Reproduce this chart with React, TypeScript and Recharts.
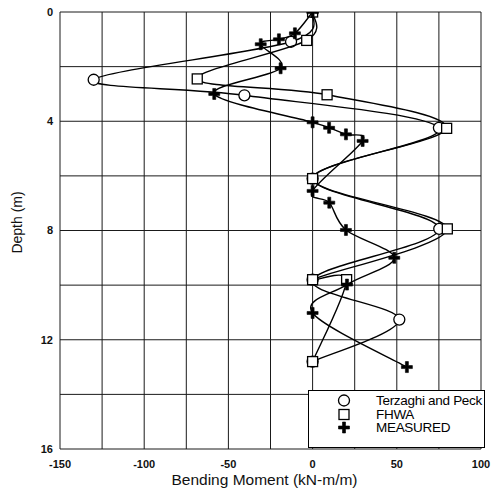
import React from "react";
import { ScatterChart, Scatter, XAxis, YAxis, CartesianGrid } from "recharts";

// values: x = bending moment (kN-m/m), y = depth (m)
const terzaghiMoment = [0, -12.8, -130, -40.5, 75, 0, 75.2, 0, 51.5, 0];
const terzaghiDepth = [0, 1.09, 2.48, 3.05, 4.24, 6.1, 7.94, 9.8, 11.26, 12.8];

const fhwaMoment = [0, -3.5, -68.5, 8.6, 79.6, 0, 80, 0, 20.2, 0];
const fhwaDepth = [0, 1.04, 2.45, 3.03, 4.26, 6.1, 7.94, 9.8, 9.8, 12.8];

const measuredMoment = [0, -10.5, -20, -30.8, -19, -58.4, 0, 9.8, 19.8, 29.7, 0, 9.9, 19.8, 48.5, 20.4, 0, 56];
const measuredDepth = [0, 0.78, 1.0, 1.18, 2.06, 3.0, 4.04, 4.24, 4.48, 4.72, 6.55, 6.98, 7.98, 9.0, 9.98, 11.02, 13.0];

const xTicks = [-150, -125, -100, -75, -50, -25, 0, 25, 50, 75, 100];
const yTicks = [0, 2, 4, 6, 8, 10, 12, 14, 16];

const toPoints = (xs: number[], ys: number[]) => xs.map((x, i) => ({ x, y: ys[i] }));

// smoothed line like the spreadsheet plot (uniform catmull-rom)
const smoothCurve = (context: any) => {
  let pts: number[][] = [];
  return {
    areaStart() {},
    areaEnd() {},
    lineStart() {
      pts = [];
    },
    lineEnd() {
      const n = pts.length;
      if (!n) return;
      context.moveTo(pts[0][0], pts[0][1]);
      for (let i = 0; i < n - 1; i++) {
        const p0 = pts[Math.max(0, i - 1)];
        const p1 = pts[i];
        const p2 = pts[i + 1];
        const p3 = pts[Math.min(n - 1, i + 2)];
        context.bezierCurveTo(
          p1[0] + (p2[0] - p0[0]) / 6,
          p1[1] + (p2[1] - p0[1]) / 6,
          p2[0] - (p3[0] - p1[0]) / 6,
          p2[1] - (p3[1] - p1[1]) / 6,
          p2[0],
          p2[1]
        );
      }
    },
    point(x: number, y: number) {
      pts.push([+x, +y]);
    },
  };
};

const FONT = "'Liberation Sans', Arial, sans-serif";

const CircleMark = (p: any) => <circle cx={p.cx} cy={p.cy} r={5.5} fill="#fff" stroke="#000" strokeWidth={1.3} />;
const SquareMark = (p: any) => (
  <rect x={p.cx - 5} y={p.cy - 5} width={10} height={10} fill="#fff" stroke="#000" strokeWidth={1.3} />
);
const CrossMark = (p: any) => (
  <path
    d={`M${p.cx - 1.5},${p.cy - 5.5}h3v4h4v3h-4v4h-3v-4h-4v-3h4z`}
    fill="#000"
    stroke="#000"
    strokeWidth={0.6}
  />
);

const legendRows = [
  { name: "Terzaghi and Peck", Mark: CircleMark },
  { name: "FHWA", Mark: SquareMark },
  { name: "MEASURED", Mark: CrossMark },
];

const LegendBox = () => (
  <div
    style={{
      position: "absolute",
      left: 308,
      top: 390,
      width: 177,
      height: 58,
      boxSizing: "border-box",
      border: "1.5px solid #000",
      background: "#fff",
      fontFamily: FONT,
      fontSize: 13.5,
      letterSpacing: -0.3,
      color: "#000",
      paddingTop: 3,
      whiteSpace: "nowrap",
    }}
  >
    {legendRows.map(({ name, Mark }) => (
      <div key={name} style={{ display: "flex", alignItems: "center", height: 13.5, lineHeight: "13.5px" }}>
        <svg width={14} height={13} style={{ marginLeft: 28, marginRight: 25, flex: "none" }}>
          <Mark cx={7} cy={6.5} />
        </svg>
        <span>{name}</span>
      </div>
    ))}
  </div>
);

// x title placed from the axis viewBox
const XTitle = (props: any) => {
  const vb = props.viewBox || {};
  return (
    <text
      x={vb.x + vb.width / 2 - 6}
      y={vb.y + 36}
      textAnchor="middle"
      fontSize={15.5}
      fill="#111"
      fontFamily={FONT}
    >
      Bending Moment (kN-m/m)
    </text>
  );
};

export default function App() {
  return (
    <div style={{ position: "fixed", left: 0, top: 0, width: 492, height: 491, background: "#fff" }}>
      <style>{"html,body{margin:0;padding:0;overflow:hidden;}"}</style>
      <ScatterChart width={492} height={491} margin={{ top: 12, right: 11, left: 0, bottom: 0 }}>
        <CartesianGrid stroke="#1a1a1a" strokeWidth={1} />
        <XAxis
          type="number"
          dataKey="x"
          domain={[-150, 100]}
          ticks={xTicks}
          allowDataOverflow
          height={42}
          tickSize={0}
          tickMargin={11}
          axisLine={false}
          tickFormatter={(v) => (v % 50 === 0 ? String(v) : "")}
          tick={{ fontSize: 11, fontWeight: 700, fill: "#111", fontFamily: FONT }}
          label={<XTitle />}
        />
        <YAxis
          type="number"
          dataKey="y"
          domain={[0, 16]}
          reversed
          ticks={yTicks}
          allowDataOverflow
          width={60}
          tickSize={0}
          tickMargin={7}
          axisLine={false}
          tickFormatter={(v) => (v % 4 === 0 ? String(v) : "")}
          tick={{ fontSize: 11, fontWeight: 700, fill: "#111", fontFamily: FONT }}
          label={{
            value: "Depth (m)",
            angle: -90,
            position: "insideLeft",
            offset: 17,
            dy: -8,
            style: { fontSize: 14, fill: "#111", fontFamily: FONT, textAnchor: "middle" },
          }}
        />
        <Scatter
          name="Terzaghi and Peck"
          data={toPoints(terzaghiMoment, terzaghiDepth)}
          line={{ stroke: "#000", strokeWidth: 1.4 }}
          lineJointType={smoothCurve as any}
          shape={CircleMark}
          isAnimationActive={false}
        />
        <Scatter
          name="FHWA"
          data={toPoints(fhwaMoment, fhwaDepth)}
          line={{ stroke: "#000", strokeWidth: 1.4 }}
          lineJointType={smoothCurve as any}
          shape={SquareMark}
          isAnimationActive={false}
        />
        <Scatter
          name="MEASURED"
          data={toPoints(measuredMoment, measuredDepth)}
          line={{ stroke: "#000", strokeWidth: 1.4 }}
          lineJointType={smoothCurve as any}
          shape={CrossMark}
          isAnimationActive={false}
        />
      </ScatterChart>
      <LegendBox />
    </div>
  );
}
